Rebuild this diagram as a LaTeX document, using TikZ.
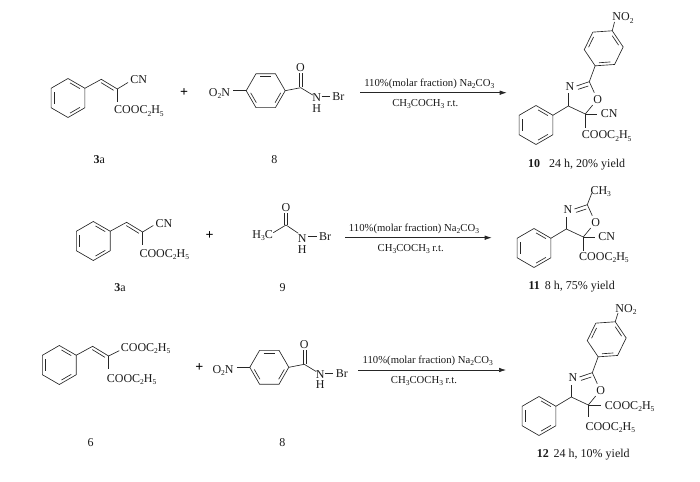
\documentclass[tikz,border=0pt]{standalone}
\usepackage{fontspec}
\setmainfont{Liberation Serif}
\usetikzlibrary{arrows.meta}
\newcommand{\sbs}[1]{\raisebox{-0.4ex}{\fontsize{7.5}{8}\selectfont #1}}
\newcommand{\chemring}[4]{%
  \foreach \k in {0,...,5} {\coordinate (#1-\k) at ({#2+19.5*cos(#4+60*\k)},{#3+19.5*sin(#4+60*\k)});}
  \draw[bond] (#1-0)--(#1-1)--(#1-2)--(#1-3)--(#1-4)--(#1-5)--cycle;
  \foreach \a in {0,120,240} {\draw[bond] ({#2+15.2*cos(#4+\a+8)},{#3+15.2*sin(#4+\a+8)})--({#2+15.2*cos(#4+\a+52)},{#3+15.2*sin(#4+\a+52)});}
}
\newcommand{\cinnamate}[3]{%
  \begin{scope}[shift={(#2,#3)},name prefix=#1-]
    \chemring{ph}{68}{98}{30}
    \coordinate (v1) at (101.3,79.3);
    \coordinate (v2) at (117.3,89);
    \coordinate (v1b) at (101,82.6);
    \coordinate (v2b) at (113.6,90.3);
    \draw[bond] (ph-5)--(v1)--(v2);
    \draw[bond] (v1b)--(v2b);
  \end{scope}}
\newcommand{\nitroamide}[3]{%
  \begin{scope}[shift={(#2,#3)},name prefix=#1-]
    \chemring{ar}{265.7}{90.7}{0}
    \node[chem,anchor=base] (no2) at (219.5,96.7) {O\sbs{2}N};
    \node[chem,anchor=base] (oxo) at (300.5,71.7) {O};
    \node[chem,anchor=base] (nh) at (316.7,101.7) {N};
    \node[chem,anchor=base] (h) at (316.7,112.3) {H};
    \node[chem,anchor=base] (br) at (338.3,100.7) {Br};
    \coordinate (c) at (300.7,87.7);
    \coordinate (nl) at (233.3,90.7);
    \coordinate (ol) at (299.5,73.5);
    \coordinate (ol2) at (302.5,73.5);
    \coordinate (cl) at (299.5,87);
    \coordinate (cl2) at (302.5,87);
    \coordinate (nc) at (312.7,95);
    \coordinate (nb1) at (321.7,96.7);
    \coordinate (nb2) at (329.5,96.7);
    \draw[bond] (nl)--(ar-3);
    \draw[bond] (ar-0)--(c)--(nc);
    \draw[bond] (cl)--(ol);
    \draw[bond] (cl2)--(ol2);
    \draw[bond] (nb1)--(nb2);
  \end{scope}}
\newcommand{\oxazoline}[3]{%
  \begin{scope}[shift={(#2,#3)},name prefix=#1-]
    \chemring{ph}{536}{125}{30}
    \node[chem,anchor=base] (n) at (570,90.7) {N};
    \node[chem,anchor=base] (o) at (597.7,103.3) {O};
    \coordinate (c4) at (568.3,106);
    \coordinate (c5) at (585.3,114);
    \coordinate (c2) at (589.3,81.7);
    \coordinate (n4) at (568.3,93.5);
    \coordinate (n2) at (576.5,86);
    \coordinate (n2b) at (578,89.4);
    \coordinate (c2b) at (588.3,86);
    \coordinate (o2) at (594.3,92.7);
    \coordinate (o5) at (592.7,105);
    \draw[bond] (ph-5)--(c4)--(c5)--(o5);
    \draw[bond] (c4)--(n4);
    \draw[bond] (n2)--(c2)--(o2);
    \draw[bond] (n2b)--(c2b);
  \end{scope}}
\tikzset{
  bond/.style={draw=black!85,line width=0.65pt},
  chem/.style={inner sep=0pt,font=\fontsize{12}{13}\selectfont,text=black!90},
  cond/.style={inner sep=0pt,font=\fontsize{10.7}{12}\selectfont,text=black!90},
  plussign/.style={inner sep=0pt,font=\fontsize{14}{14}\bfseries\selectfont,text=black},
  reactarrow/.style={draw=black!85,line width=0.65pt,-{Latex[length=7pt,width=4.5pt]}}
}
\begin{document}
\begin{tikzpicture}[x=1pt,y=-1pt]
\useasboundingbox (0,0) rectangle (700,481);
% Row 1
\cinnamate{a}{0}{0}
\node[chem,anchor=base] (a-cn) at (138.7,84) {CN};
\node[chem,anchor=base west] (a-est) at (114,114) {COOC\sbs{2}H\sbs{5}};
\coordinate (a-cnb) at (128,82.5);
\coordinate (a-estb) at (117.3,101.7);
\draw[bond] (a-v2)--(a-cnb);
\draw[bond] (a-v2)--(a-estb);
\node[plussign,anchor=base] (p1) at (184,96.7) {+};
\nitroamide{b}{0}{0}
\node[chem,anchor=base] (l3a) at (99.3,164) {\textbf{3}a};
\node[chem,anchor=base] (l8) at (274.3,164) {8};
\coordinate (s1) at (360,92.7);
\coordinate (e1) at (506.7,92.7);
\draw[reactarrow] (s1)--(e1);
\node[cond,anchor=base] (t1) at (429.3,86.5) {110\%(molar fraction) Na\sbs{2}CO\sbs{3}};
\node[cond,anchor=base] (u1) at (425.3,106.5) {CH\sbs{3}COCH\sbs{3} r.t.};
\oxazoline{c}{0}{0}
\chemring{c-ar}{603.7}{48.3}{56}
\coordinate (c-nb) at (614.5,22);
\draw[bond] (c-c2)--(c-ar-1);
\draw[bond] (c-ar-4)--(c-nb);
\node[chem,anchor=base] (c-no2) at (623,21) {NO\sbs{2}};
\node[chem,anchor=base] (c-cn) at (609.3,118) {CN};
\node[chem,anchor=base west] (c-est) at (581.7,139) {COOC\sbs{2}H\sbs{5}};
\coordinate (c-cnb) at (597.3,114);
\coordinate (c-estb) at (585.3,128.3);
\draw[bond] (c-c5)--(c-cnb);
\draw[bond] (c-c5)--(c-estb);
\node[chem,anchor=base] (cap10) at (576.7,167.3) {\textbf{10}\hspace{0.75em}24 h, 20\% yield};
% Row 2
\cinnamate{d}{25.3}{143}
\node[chem,anchor=base] (d-cn) at (164,227) {CN};
\node[chem,anchor=base west] (d-est) at (139.3,257) {COOC\sbs{2}H\sbs{5}};
\coordinate (d-cnb) at (153.3,225.5);
\coordinate (d-estb) at (142.6,244.7);
\draw[bond] (d-v2)--(d-cnb);
\draw[bond] (d-v2)--(d-estb);
\node[plussign,anchor=base] (p2) at (209.7,239.7) {+};
\node[chem,anchor=base] (e-o) at (286,211.7) {O};
\node[chem,anchor=base] (e-me) at (262.7,238.3) {H\sbs{3}C};
\node[chem,anchor=base] (e-n) at (302.3,242.3) {N};
\node[chem,anchor=base] (e-h) at (302.3,253) {H};
\node[chem,anchor=base] (e-br) at (325,240.7) {Br};
\coordinate (e-c) at (286,225);
\coordinate (e-mb) at (273.3,232.7);
\coordinate (e-nb) at (298.3,233.3);
\coordinate (e-cl) at (284.6,225);
\coordinate (e-cl2) at (287.4,225);
\coordinate (e-ol) at (284.6,213.3);
\coordinate (e-ol2) at (287.4,213.3);
\coordinate (e-b1) at (308.3,236.5);
\coordinate (e-b2) at (316.7,236.5);
\draw[bond] (e-mb)--(e-c)--(e-nb);
\draw[bond] (e-cl)--(e-ol);
\draw[bond] (e-cl2)--(e-ol2);
\draw[bond] (e-b1)--(e-b2);
\node[chem,anchor=base] (l3b) at (120,291.7) {\textbf{3}a};
\node[chem,anchor=base] (l9) at (282.7,291.7) {9};
\coordinate (s2) at (345,237.7);
\coordinate (e2) at (491.7,237.7);
\draw[reactarrow] (s2)--(e2);
\node[cond,anchor=base] (t2) at (414,231.5) {110\%(molar fraction) Na\sbs{2}CO\sbs{3}};
\node[cond,anchor=base] (u2) at (410.7,251.5) {CH\sbs{3}COCH\sbs{3} r.t.};
\oxazoline{f}{-2}{123}
\coordinate (f-mb) at (591.7,193.3);
\draw[bond] (f-c2)--(f-mb);
\node[chem,anchor=base] (f-me) at (600.7,194) {CH\sbs{3}};
\node[chem,anchor=base] (f-cn) at (606.7,240.7) {CN};
\node[chem,anchor=base west] (f-est) at (579,260) {COOC\sbs{2}H\sbs{5}};
\coordinate (f-cnb) at (595.3,237);
\coordinate (f-estb) at (583.3,251);
\draw[bond] (f-c5)--(f-cnb);
\draw[bond] (f-c5)--(f-estb);
\node[chem,anchor=base] (cap11) at (571.7,289) {\textbf{11}\hspace{0.4em}8 h, 75\% yield};
% Row 3
\cinnamate{g}{-8.7}{267}
\node[chem,anchor=base west] (g-e1) at (120.7,351.3) {COOC\sbs{2}H\sbs{5}};
\node[chem,anchor=base west] (g-e2) at (106.7,382) {COOC\sbs{2}H\sbs{5}};
\coordinate (g-b1) at (119.3,350.7);
\coordinate (g-b2) at (108.6,368.7);
\draw[bond] (g-v2)--(g-b1);
\draw[bond] (g-v2)--(g-b2);
\node[plussign,anchor=base] (p3) at (199.3,371.3) {+};
\nitroamide{h}{3.6}{276.6}
\node[chem,anchor=base] (l6) at (90.7,446.3) {6};
\node[chem,anchor=base] (l8b) at (282.3,446.7) {8};
\coordinate (s3) at (358.3,370);
\coordinate (e3) at (506,370);
\draw[reactarrow] (s3)--(e3);
\node[cond,anchor=base] (t3) at (427.7,363.8) {110\%(molar fraction) Na\sbs{2}CO\sbs{3}};
\node[cond,anchor=base] (u3) at (424,383.8) {CH\sbs{3}COCH\sbs{3} r.t.};
\oxazoline{i}{3}{291}
\chemring{i-ar}{606.7}{339.3}{56}
\coordinate (i-nb) at (618,313);
\draw[bond] (i-c2)--(i-ar-1);
\draw[bond] (i-ar-4)--(i-nb);
\node[chem,anchor=base] (i-no2) at (626,312) {NO\sbs{2}};
\node[chem,anchor=base west] (i-e1) at (604.7,409) {COOC\sbs{2}H\sbs{5}};
\node[chem,anchor=base west] (i-e2) at (585.3,430) {COOC\sbs{2}H\sbs{5}};
\coordinate (i-b1) at (600.7,405);
\coordinate (i-b2) at (588.3,416.7);
\draw[bond] (i-c5)--(i-b1);
\draw[bond] (i-c5)--(i-b2);
\node[chem,anchor=base] (cap12) at (583.3,457.3) {\textbf{12}\hspace{0.4em}24 h, 10\% yield};
\end{tikzpicture}
\end{document}
